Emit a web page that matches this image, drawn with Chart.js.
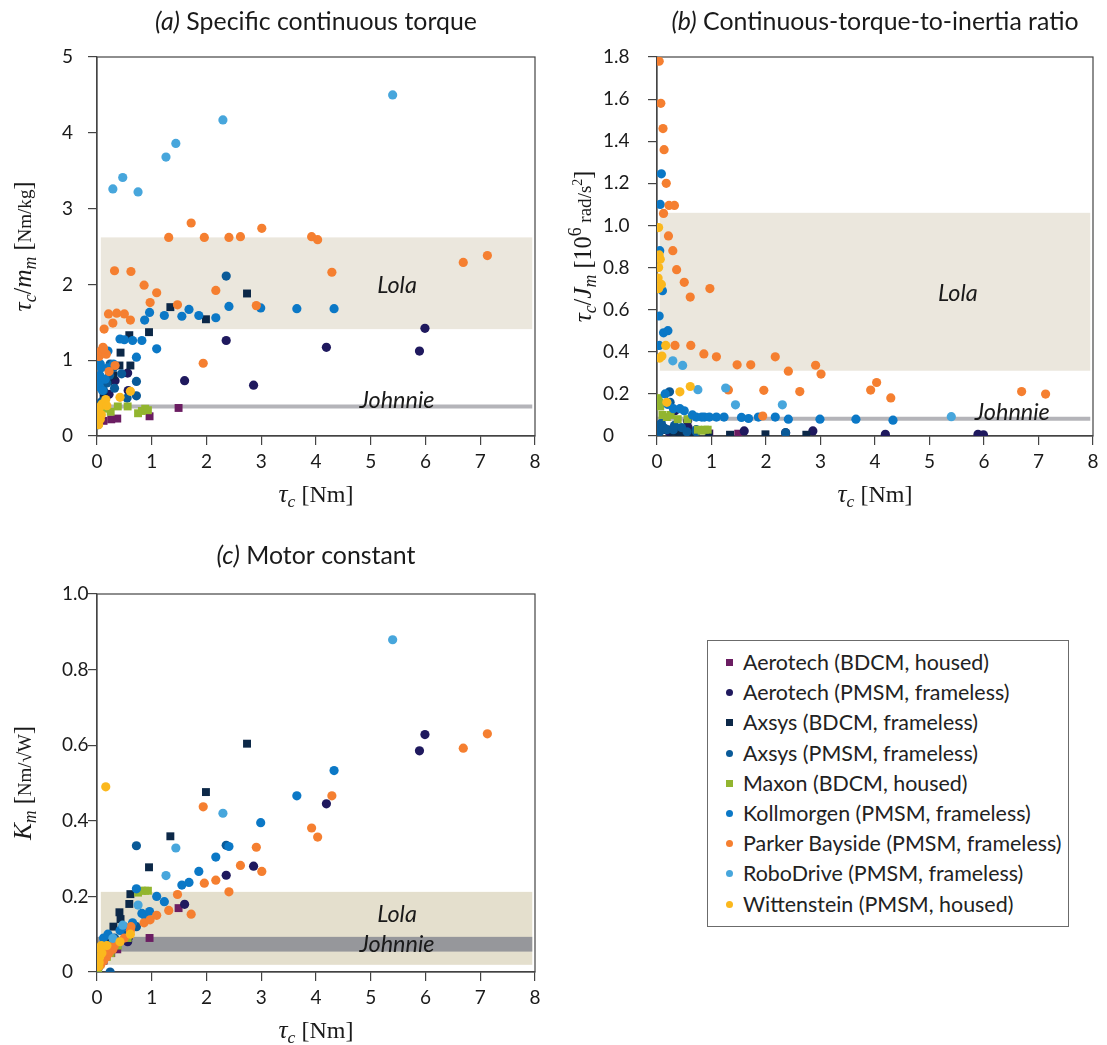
<!DOCTYPE html>
<html>
<head>
<meta charset="utf-8">
<script src="https://cdn.jsdelivr.net/npm/chart.js@4/dist/chart.umd.min.js"></script>
<style>
  body { margin: 0; background: #fff; width: 1107px; height: 1045px; position: relative; overflow: hidden; }
  .panel { position: absolute; }
  #legend { position: absolute; left: 707px; top: 640px; width: 362px; height: 287px; box-sizing: border-box;
    border: 1.3px solid #6b6b6b; padding-top: 6px; font-family: Lato, sans-serif; font-size: 21px; color: #222; }
  #legend .row { position: relative; height: 30.2px; line-height: 30.2px; white-space: nowrap; }
  #legend .mk { position: absolute; left: 18px; top: 12px; width: 7px; height: 7px; }
  #legend .tx { position: absolute; left: 35px; }
</style>
</head>
<body>
<div class="panel" style="left:0;top:0;width:560px;height:520px"><canvas id="chartA"></canvas></div>
<div class="panel" style="left:560px;top:0;width:547px;height:520px"><canvas id="chartB"></canvas></div>
<div class="panel" style="left:0;top:540px;width:560px;height:505px"><canvas id="chartC"></canvas></div>
<div id="legend"></div>
<script>
// tau_c [Nm], tau_c/m_m [Nm/kg], tau_c/J_m [10^6 rad/s^2], K_m [Nm/sqrt(W)]
const aeroBTau = [0.12, 0.26, 0.37, 0.96, 1.49]
const aeroBSpec = [0.20, 0.22, 0.23, 0.26, 0.37]
const aeroBRatio = [0.03, 0.03, 0.035, 0.012, 0.011]
const aeroBKm = [0.03, 0.05, 0.06, 0.09, 0.169]

const aeroPTau = [0.22, 0.33, 0.56, 0.57, 1.60, 2.36, 2.86, 4.19, 5.89, 5.99]
const aeroPSpec = [0.55, 0.73, 0.83, 0.60, 0.73, 1.26, 0.67, 1.17, 1.12, 1.42]
const aeroPRatio = [0.02, 0.12, 0.07, 0.04, 0.024, 0.015, 0.024, 0.008, 0.008, 0.006]
const aeroPKm = [0.05, 0.07, 0.08, 0.09, 0.179, 0.256, 0.28, 0.445, 0.585, 0.628]

const axBTau = [0.05, 0.12, 0.20, 0.30, 0.41, 0.43, 0.59, 0.61, 0.95, 1.34, 1.99, 2.74]
const axBSpec = [0.30, 0.55, 0.72, 0.80, 0.93, 1.10, 1.33, 0.93, 1.37, 1.70, 1.54, 1.88]
const axBRatio = [0.04, 0.03, 0.03, 0.02, 0.02, 0.015, 0.01, 0.01, 0.008, 0.006, 0.008, 0.006]
const axBKm = [0.04, 0.07, 0.09, 0.12, 0.158, 0.14, 0.18, 0.206, 0.277, 0.359, 0.476, 0.604]

const axPTau = [0.02, 0.05, 0.08, 0.12, 0.18, 0.23, 0.30, 0.32, 0.45, 0.55, 0.72, 0.72, 0.24, 2.36]
const axPSpec = [0.15, 0.30, 0.45, 0.60, 0.70, 0.80, 0.90, 0.63, 0.82, 0.50, 0.72, 0.53, 0.95, 2.11]
const axPRatio = [0.05, 0.02, 0.06, 0.04, 0.03, 0.21, 0.03, 0.05, 0.04, 0.02, 0.03, 0.02, 0.16, 0.016]
const axPKm = [0.01, 0.02, 0.03, 0.04, 0.05, 0.07, 0.08, 0.09, 0.11, 0.10, 0.334, 0.12, 0.0, 0.335]

const maxonTau = [0.02, 0.04, 0.06, 0.10, 0.18, 0.25, 0.38, 0.56, 0.75, 0.82, 0.88, 0.93]
const maxonSpec = [0.26, 0.30, 0.35, 0.38, 0.36, 0.32, 0.39, 0.39, 0.30, 0.33, 0.36, 0.34]
const maxonRatio = [0.18, 0.16, 0.14, 0.10, 0.09, 0.10, 0.08, 0.08, 0.03, 0.025, 0.03, 0.03]
const maxonKm = [0.01, 0.02, 0.02, 0.03, 0.04, 0.05, 0.07, 0.09, 0.21, 0.215, 0.215, 0.215]

const kollTau = [0.04, 0.04, 0.05, 0.06, 0.08, 0.10, 0.15, 0.20, 0.12, 0.30, 0.20, 0.42, 0.50, 0.72, 0.65, 0.82, 0.87, 0.96, 1.09, 1.23, 1.55, 1.68, 1.86, 2.17, 2.41, 2.99, 3.65, 4.33]
const kollSpec = [0.65, 0.70, 0.80, 0.95, 0.90, 0.60, 0.75, 0.90, 1.10, 0.95, 1.12, 1.28, 1.27, 1.04, 1.26, 1.26, 1.53, 1.63, 1.15, 1.59, 1.58, 1.67, 1.59, 1.56, 1.71, 1.69, 1.68, 1.68]
const kollRatio = [0.43, 0.57, 0.88, 1.10, 1.245, 0.69, 0.20, 0.15, 0.49, 0.13, 0.50, 0.13, 0.12, 0.09, 0.10, 0.09, 0.09, 0.09, 0.09, 0.09, 0.088, 0.083, 0.09, 0.09, 0.08, 0.08, 0.08, 0.075]
const kollKm = [0.03, 0.035, 0.04, 0.045, 0.05, 0.05, 0.06, 0.07, 0.09, 0.08, 0.10, 0.11, 0.12, 0.22, 0.13, 0.155, 0.15, 0.16, 0.20, 0.186, 0.23, 0.237, 0.266, 0.304, 0.332, 0.395, 0.466, 0.533]

const parkerTau = [0.04, 0.07, 0.11, 0.13, 0.17, 0.12, 0.22, 0.21, 0.29, 0.32, 0.36, 0.33, 0.50, 0.61, 0.62, 0.86, 0.97, 1.09, 1.31, 1.47, 1.72, 1.94, 1.96, 2.17, 2.41, 2.62, 2.91, 3.01, 3.92, 4.03, 4.29, 6.69, 7.13]
const parkerSpec = [1.05, 1.12, 1.17, 1.41, 1.08, 1.15, 0.85, 1.61, 1.49, 2.18, 1.62, 0.93, 1.61, 1.53, 2.17, 1.99, 1.76, 1.89, 2.62, 1.73, 2.81, 0.96, 2.62, 1.92, 2.62, 2.63, 1.72, 2.74, 2.63, 2.59, 2.16, 2.29, 2.38]
const parkerRatio = [1.78, 1.58, 1.46, 1.36, 1.20, 1.057, 1.095, 0.95, 0.88, 1.095, 0.79, 0.43, 0.73, 0.66, 0.43, 0.39, 0.70, 0.376, 0.219, 0.338, 0.338, 0.095, 0.217, 0.376, 0.308, 0.211, 0.336, 0.294, 0.218, 0.254, 0.181, 0.211, 0.199]
const parkerKm = [0.015, 0.02, 0.03, 0.035, 0.04, 0.03, 0.05, 0.055, 0.06, 0.07, 0.08, 0.075, 0.09, 0.11, 0.12, 0.13, 0.138, 0.15, 0.163, 0.205, 0.153, 0.437, 0.235, 0.243, 0.212, 0.282, 0.33, 0.266, 0.381, 0.357, 0.466, 0.592, 0.63]

const roboTau = [0.29, 0.47, 0.75, 1.26, 1.44, 2.30, 5.40]
const roboSpec = [3.26, 3.41, 3.22, 3.68, 3.86, 4.17, 4.50]
const roboRatio = [0.357, 0.335, 0.22, 0.228, 0.148, 0.148, 0.092]
const roboKm = [0.089, 0.124, 0.177, 0.255, 0.328, 0.42, 0.879]

const wittTau = [0.02, 0.03, 0.03, 0.03, 0.04, 0.05, 0.06, 0.08, 0.09, 0.16, 0.18, 0.42, 0.61]
const wittSpec = [0.35, 0.15, 0.30, 0.20, 0.25, 0.38, 0.22, 0.28, 0.42, 0.48, 0.40, 0.51, 0.59]
const wittRatio = [0.75, 0.70, 0.80, 0.99, 0.86, 0.37, 0.84, 0.72, 0.38, 0.43, 0.16, 0.21, 0.235]
const wittKm = [0.035, 0.015, 0.03, 0.02, 0.025, 0.04, 0.06, 0.07, 0.05, 0.49, 0.07, 0.08, 0.10]

// design regions of the two robots: [x0, x1, y0, y1]
const lolaSpec = [0.07, 7.95, 1.41, 2.62]
const johnnieSpec = 0.39
const lolaRatio = [0.05, 7.95, 0.31, 1.06]
const johnnieRatio = 0.082
const lolaKm = [0.07, 7.95, 0.019, 0.212]
const johnnieKm = [0, 7.95, 0.054, 0.093]

const series = [
  { name: 'Aerotech (BDCM, housed)', color: '#6b1d62', shape: 'rect', tau: aeroBTau, spec: aeroBSpec, ratio: aeroBRatio, km: aeroBKm },
  { name: 'Aerotech (PMSM, frameless)', color: '#1f195e', shape: 'circle', tau: aeroPTau, spec: aeroPSpec, ratio: aeroPRatio, km: aeroPKm },
  { name: 'Axsys (BDCM, frameless)', color: '#0c2848', shape: 'rect', tau: axBTau, spec: axBSpec, ratio: axBRatio, km: axBKm },
  { name: 'Axsys (PMSM, frameless)', color: '#0a5a98', shape: 'circle', tau: axPTau, spec: axPSpec, ratio: axPRatio, km: axPKm },
  { name: 'Maxon (BDCM, housed)', color: '#92b52f', shape: 'rect', tau: maxonTau, spec: maxonSpec, ratio: maxonRatio, km: maxonKm },
  { name: 'Kollmorgen (PMSM, frameless)', color: '#0b78c6', shape: 'circle', tau: kollTau, spec: kollSpec, ratio: kollRatio, km: kollKm },
  { name: 'Parker Bayside (PMSM, frameless)', color: '#f57f30', shape: 'circle', tau: parkerTau, spec: parkerSpec, ratio: parkerRatio, km: parkerKm },
  { name: 'RoboDrive (PMSM, frameless)', color: '#47a6dc', shape: 'circle', tau: roboTau, spec: roboSpec, ratio: roboRatio, km: roboKm },
  { name: 'Wittenstein (PMSM, housed)', color: '#fbb81d', shape: 'circle', tau: wittTau, spec: wittSpec, ratio: wittRatio, km: wittKm }
]

const SANS = 'Lato'
const SERIF = '"Liberation Serif"'
const measure = document.createElement('canvas').getContext('2d')

// text runs: t text, s size, i italic, m math serif, dy baseline shift
function runFont (r, k) {
  return `${r.i ? 'italic ' : ''}${r.s * k}px ${r.m ? SERIF : SANS}`
}
function runsWidth (runs, k) {
  let w = 0
  runs.forEach(r => { measure.font = runFont(r, k); w += measure.measureText(r.t).width })
  return w
}
function drawRuns (ctx, runs, cx, cy, rotate, k) {
  const w = runsWidth(runs, k)
  ctx.save()
  ctx.translate(cx, cy)
  if (rotate) ctx.rotate(-Math.PI / 2)
  ctx.fillStyle = '#1a1a1a'
  ctx.textBaseline = 'alphabetic'
  ctx.textAlign = 'left'
  let x = -w / 2
  runs.forEach(r => {
    ctx.font = runFont(r, k)
    ctx.fillText(r.t, x, (r.dy || 0) * k)
    x += ctx.measureText(r.t).width
  })
  ctx.restore()
}

const tauLabel = [{ t: 'τ', s: 20, i: 1, m: 1 }, { t: 'c', s: 14, i: 1, m: 1, dy: 4 }, { t: ' [Nm]', s: 19, m: 1 }]
const titleA = [{ t: '(a)', s: 22, i: 1 }, { t: ' Specific continuous torque', s: 22 }]
const titleB = [{ t: '(b)', s: 22, i: 1 }, { t: ' Continuous-torque-to-inertia ratio', s: 22 }]
const titleC = [{ t: '(c)', s: 22, i: 1 }, { t: ' Motor constant', s: 22 }]
const yLabelA = [{ t: 'τ', s: 20, i: 1, m: 1 }, { t: 'c', s: 14, i: 1, m: 1, dy: 4 }, { t: '/', s: 19, m: 1 }, { t: 'm', s: 20, i: 1, m: 1 },
  { t: 'm', s: 14, i: 1, m: 1, dy: 4 }, { t: ' [', s: 19, m: 1 }, { t: 'Nm/kg', s: 15, m: 1 }, { t: ']', s: 19, m: 1 }]
const yLabelB = [{ t: 'τ', s: 20, i: 1, m: 1 }, { t: 'c', s: 14, i: 1, m: 1, dy: 4 }, { t: '/', s: 19, m: 1 }, { t: 'J', s: 20, i: 1, m: 1 },
  { t: 'm', s: 14, i: 1, m: 1, dy: 4 }, { t: ' [10', s: 19, m: 1 }, { t: '6', s: 14, m: 1, dy: -8 }, { t: ' rad/s', s: 15, m: 1 },
  { t: '2', s: 11, m: 1, dy: -7 }, { t: ']', s: 19, m: 1 }]
const yLabelC = [{ t: 'K', s: 20, i: 1, m: 1 }, { t: 'm', s: 14, i: 1, m: 1, dy: 4 }, { t: ' [', s: 19, m: 1 }, { t: 'Nm/√W', s: 15, m: 1 }, { t: ']', s: 19, m: 1 }]
const noteRun = [{ t: 'Johnnie', s: 18, i: 1 }]

// scale factors so that text widths match the reference
const kTitle = 322 / runsWidth(titleA, 1)
const kAxis = 75 / runsWidth(tauLabel, 1)
const kYLabel = 130 / runsWidth(yLabelA, 1)
const kNote = 75 / runsWidth(noteRun, 1)

const decorPlugin = {
  id: 'decor',
  beforeDatasetsDraw (chart, args, o) {
    const { ctx, chartArea: a, scales: { x, y } } = chart
    ctx.save()
    ctx.beginPath()
    ctx.rect(a.left, a.top, a.right - a.left, a.bottom - a.top)
    ctx.clip()
    o.bands.forEach(b => {
      ctx.fillStyle = b.color
      const x0 = x.getPixelForValue(b.r[0])
      const x1 = x.getPixelForValue(b.r[1])
      const y0 = y.getPixelForValue(b.r[2])
      const y1 = y.getPixelForValue(b.r[3])
      ctx.fillRect(x0, y1, x1 - x0, y0 - y1)
    })
    o.lines.forEach(l => {
      ctx.strokeStyle = l.color
      ctx.lineWidth = 4
      ctx.beginPath()
      ctx.moveTo(x.getPixelForValue(0), y.getPixelForValue(l.v))
      ctx.lineTo(x.getPixelForValue(7.95), y.getPixelForValue(l.v))
      ctx.stroke()
    })
    ctx.fillStyle = '#1a1a1a'
    ctx.font = `italic ${18 * kNote}px ${SANS}`
    ctx.textAlign = 'center'
    ctx.textBaseline = 'middle'
    o.labels.forEach(l => ctx.fillText(l.t, x.getPixelForValue(l.x), y.getPixelForValue(l.y)))
    ctx.restore()
    // frame
    ctx.save()
    ctx.strokeStyle = '#444'
    ctx.lineWidth = 1.2
    ctx.strokeRect(a.left, a.top, a.right - a.left, a.bottom - a.top)
    ctx.restore()
  },
  afterDraw (chart, args, o) {
    const { ctx, chartArea: a } = chart
    const cx = (a.left + a.right) / 2
    drawRuns(ctx, o.title, cx, o.titleY, false, kTitle)
    drawRuns(ctx, o.yLabel, 31, (a.top + a.bottom) / 2, true, kYLabel)
    drawRuns(ctx, tauLabel, cx, a.bottom + 66, false, kAxis)
  }
}

function makeChart (id, key, yMax, yStep, fmt, pad, xAxisH, decor) {
  const datasets = series.map((s, i) => ({
    label: s.name,
    data: s.tau.map((t, j) => ({ x: t, y: s[key][j] })),
    backgroundColor: s.color,
    borderWidth: 0,
    pointStyle: s.shape,
    pointRadius: s.shape === 'rect' ? 5.6 : 4.6,
    order: series.length - i
  }))
  const tickFont = { family: SANS, size: 19 }
  return new Chart(document.getElementById(id), {
    type: 'scatter',
    data: { datasets },
    plugins: [decorPlugin],
    options: {
      responsive: true,
      maintainAspectRatio: false,
      animation: false,
      layout: { padding: pad },
      plugins: { legend: { display: false }, tooltip: { enabled: false }, decor },
      scales: {
        x: {
          min: 0,
          max: 8,
          afterFit: (s) => { s.height = xAxisH },
          ticks: { stepSize: 1, autoSkip: false, color: '#1a1a1a', font: tickFont, padding: 5, maxRotation: 0 },
          grid: { drawOnChartArea: false, tickLength: 9, color: '#444', lineWidth: 1.2 },
          border: { color: '#444', width: 1.2 }
        },
        y: {
          min: 0,
          max: yMax,
          afterFit: (s) => { s.width = 97 - pad.left },
          ticks: { stepSize: yStep, autoSkip: false, color: '#1a1a1a', font: tickFont, crossAlign: 'far', callback: fmt },
          grid: { drawOnChartArea: false, tickLength: 9, color: '#444', lineWidth: 1.2 },
          border: { color: '#444', width: 1.2 }
        }
      }
    }
  })
}

const fmt1 = (v) => (v === 0 ? '0' : v.toFixed(1))
const fmt0 = (v) => String(v)

makeChart('chartA', 'spec', 5, 1, fmt0, { left: 62, top: 57, right: 25, bottom: 0 }, 84, {
  bands: [{ r: lolaSpec, color: '#ebe7dd' }],
  lines: [{ v: johnnieSpec, color: '#b4b4b9' }],
  labels: [{ t: 'Lola', x: 5.48, y: 1.99 }, { t: 'Johnnie', x: 5.48, y: 0.47 }],
  title: titleA,
  titleY: 30,
  yLabel: yLabelA
})

makeChart('chartB', 'ratio', 1.8, 0.2, fmt1, { left: 43, top: 57, right: 14, bottom: 0 }, 84, {
  bands: [{ r: lolaRatio, color: '#ebe7dd' }],
  lines: [{ v: johnnieRatio, color: '#b4b4b9' }],
  labels: [{ t: 'Lola', x: 5.52, y: 0.678 }, { t: 'Johnnie', x: 6.52, y: 0.114 }],
  title: titleB,
  titleY: 30,
  yLabel: yLabelB
})

makeChart('chartC', 'km', 1.0, 0.2, fmt1, { left: 62, top: 54, right: 25, bottom: 0 }, 73, {
  bands: [{ r: lolaKm, color: '#e4dfcd' }, { r: johnnieKm, color: '#96979b' }],
  lines: [],
  labels: [{ t: 'Lola', x: 5.48, y: 0.153 }, { t: 'Johnnie', x: 5.48, y: 0.074 }],
  title: titleC,
  titleY: 24,
  yLabel: yLabelC
})

// legend, font sized so the longest entry fits the reference width
const legend = document.getElementById('legend')
measure.font = `21px ${SANS}`
const legendSize = 21 * 319 / measure.measureText(series[6].name).width
legend.style.fontSize = legendSize + 'px'
series.forEach(s => {
  const row = document.createElement('div')
  row.className = 'row'
  const mk = document.createElement('span')
  mk.className = 'mk'
  mk.style.background = s.color
  if (s.shape === 'circle') mk.style.borderRadius = '50%'
  const tx = document.createElement('span')
  tx.className = 'tx'
  tx.textContent = s.name
  row.appendChild(mk)
  row.appendChild(tx)
  legend.appendChild(row)
})
</script>
</body>
</html>
